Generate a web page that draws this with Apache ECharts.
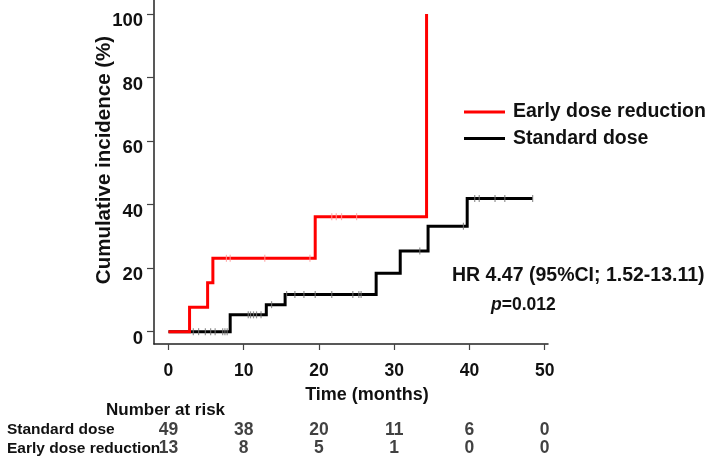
<!DOCTYPE html>
<html><head><meta charset="utf-8">
<script src="https://cdn.jsdelivr.net/npm/echarts@6/dist/echarts.min.js"></script>
<style>html,body{margin:0;padding:0;background:#fff}#c{width:709px;height:460px}</style>
</head><body><div id="c"></div>
<script>
// ---- data ----
const xTicks = [0, 10, 20, 30, 40, 50];
const yTicks = [0, 20, 40, 60, 80, 100];
const groupNames = ['Early dose reduction', 'Standard dose'];
const earlyTimes  = [0, 2.8, 5.2, 5.9, 19.5, 34.3];
const earlyValues = [0, 7.7, 15.4, 23.1, 36.2, 100];
const earlyCensor = [7.7, 8.2, 12.8, 18.8, 21.7, 22.3, 23.0, 25.0];
const stdTimes  = [0, 8.2, 13.0, 15.5, 27.6, 30.8, 34.5, 39.7, 48.4];
const stdValues = [0, 5.3, 8.5, 11.7, 18.4, 25.4, 33.2, 41.9, 41.9];
const stdCensor = [3.3, 4.0, 4.9, 5.6, 6.2, 7.2, 7.5, 7.8, 10.6, 10.9, 11.3, 11.7, 12.3, 13.7,
                   15.7, 16.8, 18.0, 19.5, 21.7, 24.5, 25.3, 25.6, 33.4, 39.2, 40.7, 41.3, 43.4, 44.7, 48.4];
const riskRows = ['Standard dose', 'Early dose reduction'];
const riskTimes = [0, 10, 20, 30, 40, 50];
const riskStandard = [49, 38, 20, 11, 6, 0];
const riskEarly = [13, 8, 5, 1, 0, 0];

// ---- helpers ----
const FONT = '"Liberation Sans", Arial, Helvetica, sans-serif';
function levelAt(times, values, t) {
  let v = values[0];
  for (let i = 0; i < times.length; i++) if (times[i] <= t) v = values[i];
  return v;
}
const X_MIN = -1.926, X_MAX = 50.44, Y_MIN = -3.88, Y_MAX = 104.42;

const chart = echarts.init(document.getElementById('c'), null, {renderer: 'canvas'});
chart.setOption({
  animation: false,
  backgroundColor: '#fff',
  textStyle: {fontFamily: FONT},
  grid: [
    {left: 154, right: 161, top: 0, bottom: 116},
    {left: 154, right: 161, top: 421, height: 36.6}
  ],
  xAxis: [
    {gridIndex: 0, type: 'value', min: X_MIN, max: X_MAX,
     axisLine: {show: true, onZero: false, lineStyle: {color: '#222', width: 1.5}},
     axisTick: {show: true, customValues: xTicks, length: 6, lineStyle: {color: '#444', width: 1.2}},
     axisLabel: {show: true, customValues: xTicks, margin: 18, fontSize: 17.5, fontWeight: 'bold', color: '#111', fontFamily: FONT},
     splitLine: {show: false}},
    {gridIndex: 1, type: 'value', min: X_MIN, max: X_MAX, show: false}
  ],
  yAxis: [
    {gridIndex: 0, type: 'value', min: Y_MIN, max: Y_MAX,
     axisLine: {show: true, onZero: false, lineStyle: {color: '#222', width: 1.5}},
     axisTick: {show: true, customValues: yTicks, length: 7, lineStyle: {color: '#444', width: 1.2}},
     axisLabel: {show: true, customValues: yTicks, margin: 11, fontSize: 18.5, fontWeight: 'bold', color: '#111', fontFamily: FONT,
                 verticalAlign: 'top', lineHeight: 14},
     splitLine: {show: false}},
    {gridIndex: 1, type: 'category', data: riskRows, inverse: true,
     axisLine: {show: false}, axisTick: {show: false}, splitLine: {show: false},
     axisLabel: {show: true, interval: 0, hideOverlap: false, align: 'left', margin: 147, fontSize: 15.5, fontWeight: 'bold', color: '#111', fontFamily: FONT}}
  ],
  legend: {
    data: groupNames, orient: 'vertical', left: 459, top: 97,
    itemWidth: 41, itemHeight: 3, itemGap: 6.5, icon: 'rect', selectedMode: false,
    textStyle: {fontSize: 19.5, fontWeight: 'bold', color: '#111', fontFamily: FONT, lineHeight: 20, padding: [0, 0, 0, 3]}
  },
  series: [
    {name: 'Standard dose', type: 'line', step: 'end', symbol: 'none', z: 2,
     data: stdTimes.map((t, i) => [t, stdValues[i]]),
     itemStyle: {color: '#000'}, lineStyle: {color: '#000', width: 3, join: 'miter', cap: 'butt'}},
    {name: 'Early dose reduction', type: 'line', step: 'end', symbol: 'none', z: 3,
     data: earlyTimes.map((t, i) => [t, earlyValues[i]]),
     itemStyle: {color: '#ff0000'}, lineStyle: {color: '#ff0000', width: 3, join: 'miter', cap: 'butt'}},
    {name: 'censor-std', type: 'scatter', symbol: 'rect', symbolSize: [1.2, 7], z: 4, silent: true,
     data: stdCensor.map(t => [t, levelAt(stdTimes, stdValues, t)]),
     itemStyle: {color: '#777'}},
    {name: 'censor-early', type: 'scatter', symbol: 'rect', symbolSize: [1.2, 7], z: 5, silent: true,
     data: earlyCensor.map(t => [t, levelAt(earlyTimes, earlyValues, t)]),
     itemStyle: {color: '#ff9a9a'}},
    {name: 'risk', type: 'scatter', xAxisIndex: 1, yAxisIndex: 1, symbolSize: 1, silent: true,
     itemStyle: {color: 'rgba(0,0,0,0)'},
     data: riskTimes.map((t, i) => [t, riskRows[0], riskStandard[i]])
       .concat(riskTimes.map((t, i) => [t, riskRows[1], riskEarly[i]])),
     label: {show: true, position: 'inside', formatter: p => String(p.value[2]),
             fontSize: 17.5, fontWeight: 'bold', color: '#111', fontFamily: FONT}}
  ],
  graphic: [
    {type: 'text', x: 104, y: 160, rotation: Math.PI / 2,
     style: {text: 'Cumulative incidence (%)', font: 'bold 20.5px ' + FONT, fill: '#111',
             textAlign: 'center', textVerticalAlign: 'middle', align: 'center', verticalAlign: 'middle'}},
    {type: 'text', x: 367, y: 395,
     style: {text: 'Time (months)', font: 'bold 18px ' + FONT, fill: '#111',
             textAlign: 'center', textVerticalAlign: 'middle', align: 'center', verticalAlign: 'middle'}},
    {type: 'text', x: 106, y: 410,
     style: {text: 'Number at risk', font: 'bold 17px ' + FONT, fill: '#111',
             textAlign: 'left', textVerticalAlign: 'middle', align: 'left', verticalAlign: 'middle'}},
    {type: 'text', x: 452, y: 276,
     style: {text: 'HR 4.47 (95%CI; 1.52-13.11)', font: 'bold 19.5px ' + FONT, fill: '#111',
             textAlign: 'left', textVerticalAlign: 'middle', align: 'left', verticalAlign: 'middle'}},
    {type: 'text', x: 491, y: 305,
     style: {text: '{i|p}{b|=0.012}', fill: '#111', textAlign: 'left', textVerticalAlign: 'middle', align: 'left', verticalAlign: 'middle',
             rich: {i: {fontStyle: 'italic', fontWeight: 'bold', fontSize: 17.5, fontFamily: FONT, fill: '#111'},
                    b: {fontWeight: 'bold', fontSize: 17.5, fontFamily: FONT, fill: '#111'}}}}
  ]
});
</script></body></html>
